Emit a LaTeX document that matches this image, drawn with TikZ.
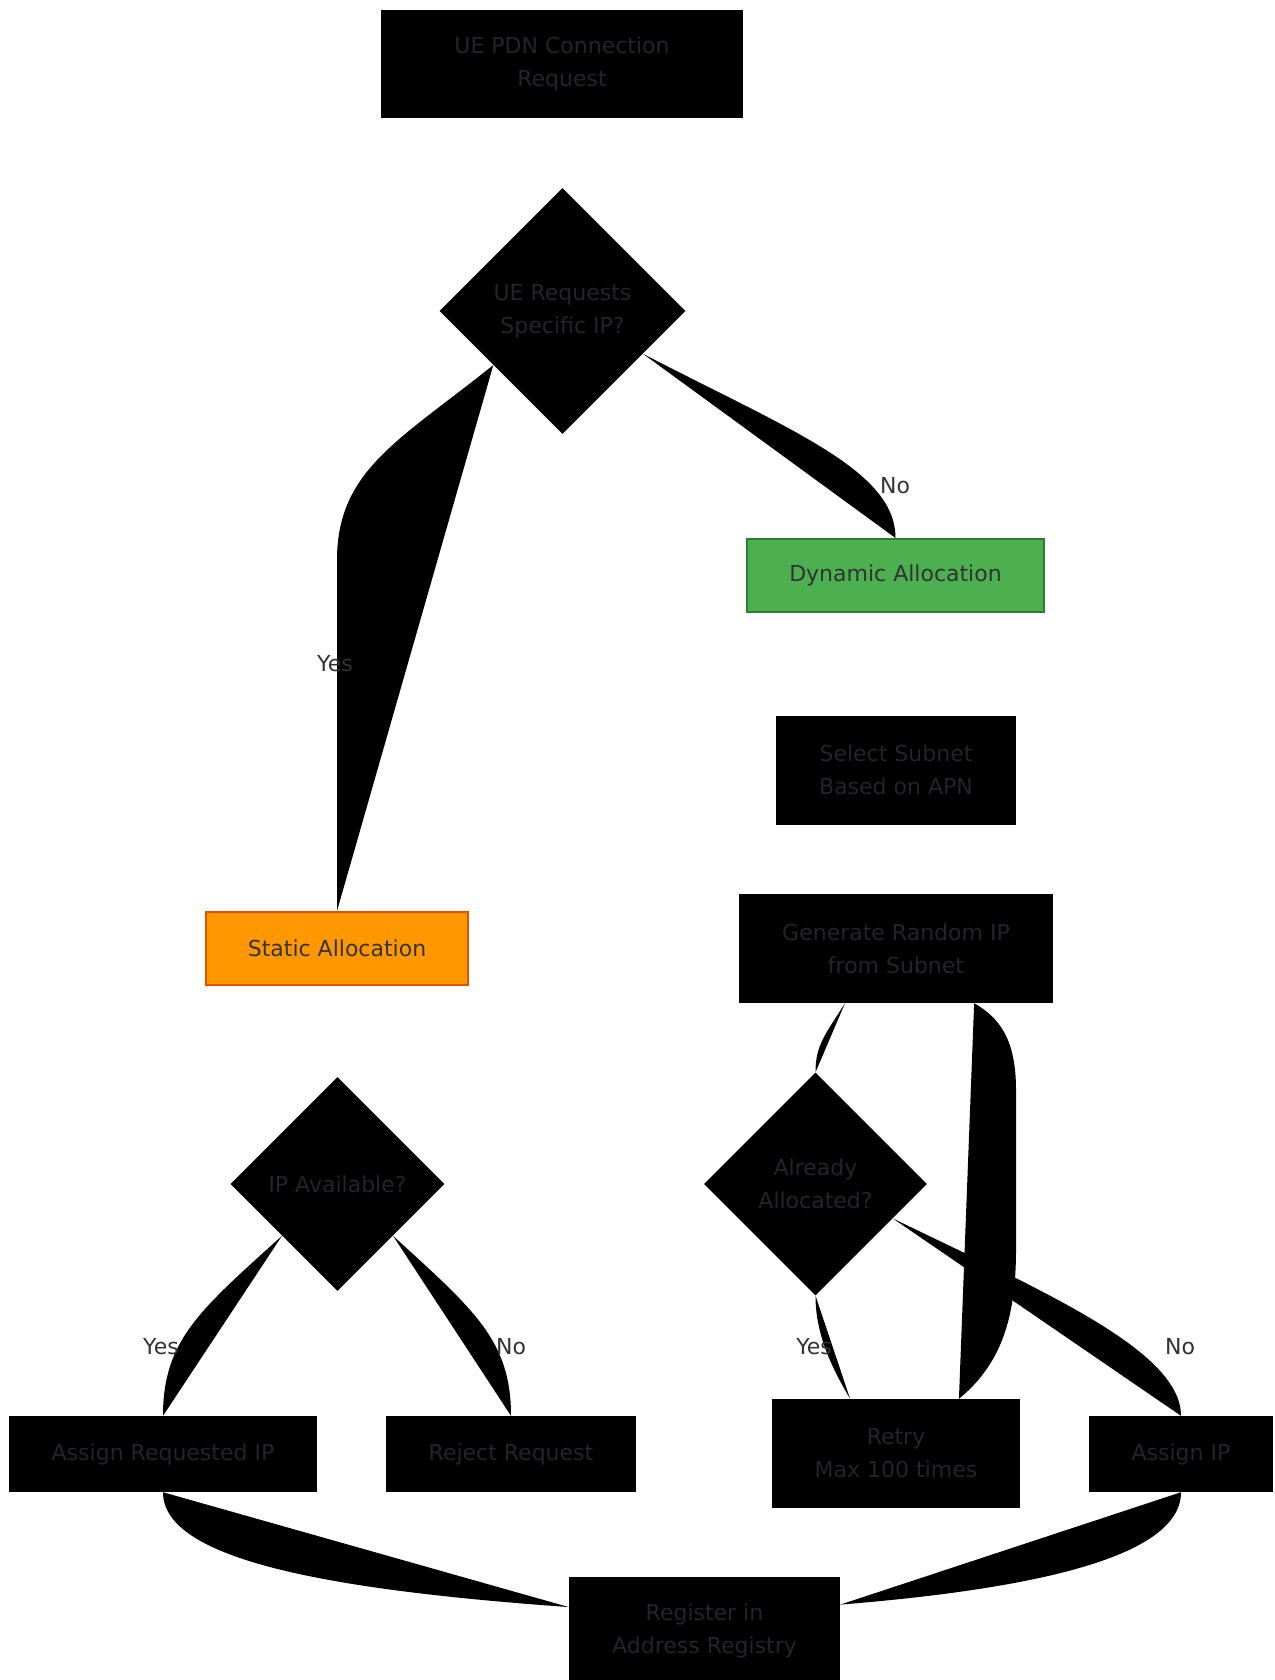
\documentclass[tikz,border=0pt]{standalone}
\usepackage{fontspec}
\setmainfont{DejaVu Sans}
\usetikzlibrary{shapes.geometric}
\definecolor{txtgray}{HTML}{333333}
\definecolor{darktxt}{HTML}{242428}
\definecolor{statfill}{HTML}{FF9800}
\definecolor{statline}{HTML}{E65100}
\definecolor{dynfill}{HTML}{4CAF50}
\definecolor{dynline}{HTML}{2E7D32}

\begin{document}
\begin{tikzpicture}[x=1pt,y=-1pt,
	every node/.style={font=\fontsize{22}{33}\selectfont,text=txtgray,align=center},
	blackbox/.style={rectangle,fill=black,text=darktxt,inner sep=0pt},
	blackdiam/.style={diamond,aspect=1,fill=black,text=darktxt,inner sep=0pt},
	edgelabel/.style={inner sep=0pt},
	flow/.style={fill=black}]
	\useasboundingbox[fill=white] (0,0) rectangle (1274,1680);
	\node[blackbox,minimum width=362pt,minimum height=108pt] (pdn) at (562,64) {UE PDN Connection\\Request};
	\node[blackdiam,minimum width=246pt,minimum height=246pt] (spec) at (562.5,311) {UE Requests\\Specific IP?};
	\node[rectangle,fill=dynfill,draw=dynline,line width=2pt,minimum width=297pt,minimum height=73pt] (dyn) at (895.5,575.5) {Dynamic Allocation};
	\node[rectangle,fill=statfill,draw=statline,line width=2pt,minimum width=262pt,minimum height=73pt] (stat) at (337,948.5) {Static Allocation};
	\node[blackbox,minimum width=240pt,minimum height=109pt] (sel) at (896,770) {Select Subnet\\Based on APN};
	\node[blackbox,minimum width=314pt,minimum height=109pt] (gen) at (896,948.5) {Generate Random IP\\from Subnet};
	\node[blackdiam,minimum width=214pt,minimum height=214pt] (avail) at (337.5,1184) {IP Available?};
	\node[blackdiam,minimum width=223pt,minimum height=223pt] (alloc) at (815.5,1184) {Already\\Allocated?};
	\node[blackbox,minimum width=308pt,minimum height=76pt] (areq) at (163,1454) {Assign Requested IP};
	\node[blackbox,minimum width=250pt,minimum height=76pt] (rej) at (511,1454) {Reject Request};
	\node[blackbox,minimum width=248pt,minimum height=109pt] (retry) at (896,1453.5) {Retry\\Max 100 times};
	\node[blackbox,minimum width=184pt,minimum height=76pt] (aip) at (1181,1454) {Assign IP};
	\node[blackbox,minimum width=271pt,minimum height=109pt] (reg) at (704.5,1631) {Register in\\Address Registry};

	\fill[flow] (spec.218) .. controls (400,440) and (337,470) .. (337,560) -- (stat.north);
	\fill[flow] (spec.-28) .. controls (790,430) and (895.5,470) .. (dyn.north);
	\fill[flow] (avail.223) .. controls (200,1310) and (163,1340) .. (areq.north);
	\fill[flow] (avail.-43) .. controls (474,1310) and (511,1340) .. (rej.north);
	\fill[flow] (gen.227) .. controls (825,1035) and (815.5,1045) .. (alloc.north);
	\fill[flow] (alloc.south) .. controls (815.5,1335) and (832,1368) .. (retry.130);
	\fill[flow] (alloc.-24) .. controls (1040,1290) and (1181,1350) .. (aip.north);
	\fill[flow] (retry.41) .. controls (1000,1365) and (1016,1320) .. (1016,1250) -- (1016,1090) .. controls (1016,1040) and (1000,1018) .. (gen.-35);
	\fill[flow] (areq.south) .. controls (163,1560) and (330,1590) .. (reg.170);
	\fill[flow] (aip.south) .. controls (1181,1560) and (1020,1590) .. (reg.11);

	\node[edgelabel] (lyes1) at (335,664) {Yes};
	\node[edgelabel] (lno1) at (895,486) {No};
	\node[edgelabel] (lyes2) at (161,1347) {Yes};
	\node[edgelabel] (lno2) at (511,1347) {No};
	\node[edgelabel] (lyes3) at (814,1347) {Yes};
	\node[edgelabel] (lno3) at (1180,1347) {No};
\end{tikzpicture}
\end{document}
